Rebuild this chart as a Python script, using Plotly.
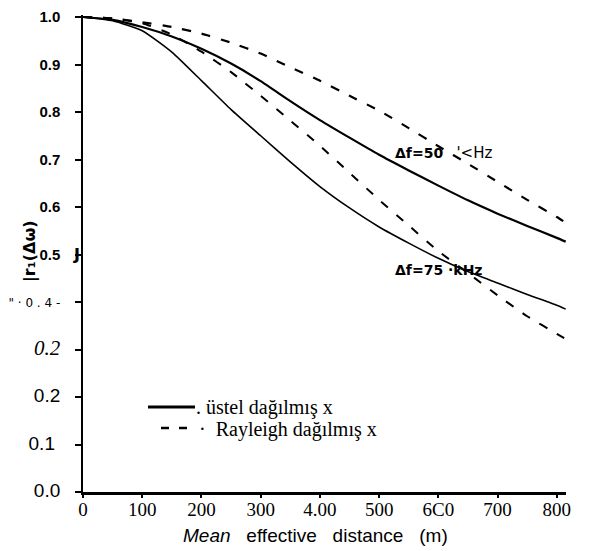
import plotly.graph_objects as go

# Mean effective distance (m)
distance = [0, 50, 100, 150, 200, 250, 300, 350, 400, 450, 500, 550, 600, 650, 700, 750, 800, 815]

# Exponential distribution, Δf = 50 kHz and 75 kHz
exp_50 = [1.0, 0.994, 0.979, 0.959, 0.933, 0.902, 0.865, 0.823, 0.783, 0.746, 0.710, 0.677,
          0.645, 0.614, 0.586, 0.560, 0.535, 0.527]
exp_75 = [1.0, 0.992, 0.971, 0.926, 0.866, 0.805, 0.750, 0.695, 0.643, 0.598, 0.558, 0.524,
          0.492, 0.464, 0.440, 0.416, 0.393, 0.385]

# Rayleigh distribution, Δf = 50 kHz and 75 kHz
ray_50 = [1.0, 0.997, 0.989, 0.979, 0.965, 0.946, 0.923, 0.894, 0.866, 0.834, 0.803, 0.766,
          0.728, 0.691, 0.653, 0.615, 0.579, 0.567]
ray_75 = [1.0, 0.997, 0.987, 0.963, 0.927, 0.884, 0.834, 0.782, 0.729, 0.672, 0.615, 0.561,
          0.507, 0.461, 0.414, 0.370, 0.333, 0.322]

x_tickvals = [0, 100, 200, 300, 400, 500, 600, 700, 800]
x_ticktext = ["0", "100", "200", "300", "4.00", "500", "6C0", "700", "800"]

y_tickvals = [1.0, 0.9, 0.8, 0.7, 0.6, 0.5, 0.4, 0.3, 0.2, 0.1, 0.0]
SANS = "font-family:'Liberation Sans';font-weight:normal;font-size:19px"
y_ticktext = [
    "1.0", "0.9", "0.8", "0.7", "0.6", "0.5",
    "<span style=\"font-family:'DejaVu Sans';font-weight:normal;font-size:12px\">\" · 0 . 4 -</span>",
    "<span style=\"font-family:'Liberation Serif';font-weight:normal;font-style:italic;font-size:21px\">0.2</span>",
    f"<span style=\"{SANS}\">0.2</span>",
    f"<span style=\"{SANS}\">0.1 </span>",
    f"<span style=\"{SANS}\">0.0</span>",
]

legend_solid = ". üstel dağılmış x"
legend_dash = "·  Rayleigh dağılmış x"

W, H = 596, 551
ML, MR, MT, MB = 83, 30, 15, 59
PW, PH = W - ML - MR, H - MT - MB


def px(xp):
    return (xp - ML) / PW


def py(yp):
    return (H - MB - yp) / PH


line_shape = dict(shape="spline", smoothing=0.5)

fig = go.Figure()
fig.add_trace(go.Scatter(x=distance, y=exp_50, mode="lines",
                         line=dict(color="black", width=2.2, **line_shape)))
fig.add_trace(go.Scatter(x=distance, y=ray_50, mode="lines",
                         line=dict(color="black", width=2.2, dash="9px,11px", **line_shape)))
fig.add_trace(go.Scatter(x=distance, y=exp_75, mode="lines",
                         line=dict(color="black", width=1.6, **line_shape)))
fig.add_trace(go.Scatter(x=distance, y=ray_75, mode="lines",
                         line=dict(color="black", width=2.0, dash="9px,11px", **line_shape)))

fig.update_layout(
    width=W, height=H,
    margin=dict(l=ML, r=MR, t=MT, b=MB, autoexpand=False),
    paper_bgcolor="white", plot_bgcolor="white",
    showlegend=False,
    xaxis=dict(range=[0, 815.5], tickvals=x_tickvals, ticktext=x_ticktext, automargin=False,
               showgrid=False, zeroline=False, showline=True, linecolor="black", linewidth=3,
               ticks="outside", ticklen=3, tickwidth=1.5, tickcolor="black",
               ticklabelstandoff=-5,
               tickfont=dict(family="Liberation Serif", size=19, color="black")),
    yaxis=dict(range=[0, 1.0042], tickvals=y_tickvals, ticktext=y_ticktext, automargin=False,
               showgrid=False, zeroline=False, showline=True, linecolor="black", linewidth=1.5,
               ticks="outside", ticklen=6, tickwidth=1.5, tickcolor="black",
               ticklabelstandoff=12,
               tickfont=dict(family="Liberation Sans", size=15, color="black", weight="bold")),
)

# legend keys
fig.add_shape(type="line", xref="paper", yref="paper",
              x0=px(148), x1=px(195), y0=py(407), y1=py(407),
              line=dict(color="black", width=3))
fig.add_shape(type="line", xref="paper", yref="paper",
              x0=px(161), x1=px(190), y0=py(428), y1=py(428),
              line=dict(color="black", width=2.5, dash="8px,10px"))

annotations = [
    dict(x=px(194), y=py(407), xref="paper", yref="paper", xanchor="left", yanchor="middle",
         showarrow=False, text=legend_solid,
         font=dict(family="Liberation Serif", size=20, color="black")),
    dict(x=px(197), y=py(429), xref="paper", yref="paper", xanchor="left", yanchor="middle",
         showarrow=False, text=legend_dash,
         font=dict(family="Liberation Serif", size=20, color="black")),
    dict(x=523, y=0.714, xref="x", yref="y", xanchor="left", yanchor="middle", showarrow=False,
         text="<b>Δf=50</b>   <span style=\"font-size:15px\">'&lt;Hz</span>",
         font=dict(family="DejaVu Sans", size=14, color="black")),
    dict(x=523, y=0.467, xref="x", yref="y", xanchor="left", yanchor="middle", showarrow=False,
         text="<b>Δf=75 ·kHz</b>",
         font=dict(family="DejaVu Sans", size=14, color="black")),
    dict(x=px(30), y=py(251), xref="paper", yref="paper", showarrow=False, textangle=-90,
         xanchor="center", yanchor="middle",
         text="<b>|r₁(Δω)</b>",
         font=dict(family="DejaVu Sans", size=16, color="black")),
    dict(x=px(76), y=0.5, xref="paper", yref="y", showarrow=False, xanchor="center",
         yanchor="middle",
         text="<b>J</b>", font=dict(family="DejaVu Sans", size=16, color="black")),
    dict(x=px(315), y=py(535), xref="paper", yref="paper", showarrow=False, yanchor="middle",
         text="<i>Mean</i>   effective   distance   (m)",
         font=dict(family="Liberation Sans", size=19, color="black")),
]
fig.update_layout(annotations=annotations)

fig.write_html("out.html")
